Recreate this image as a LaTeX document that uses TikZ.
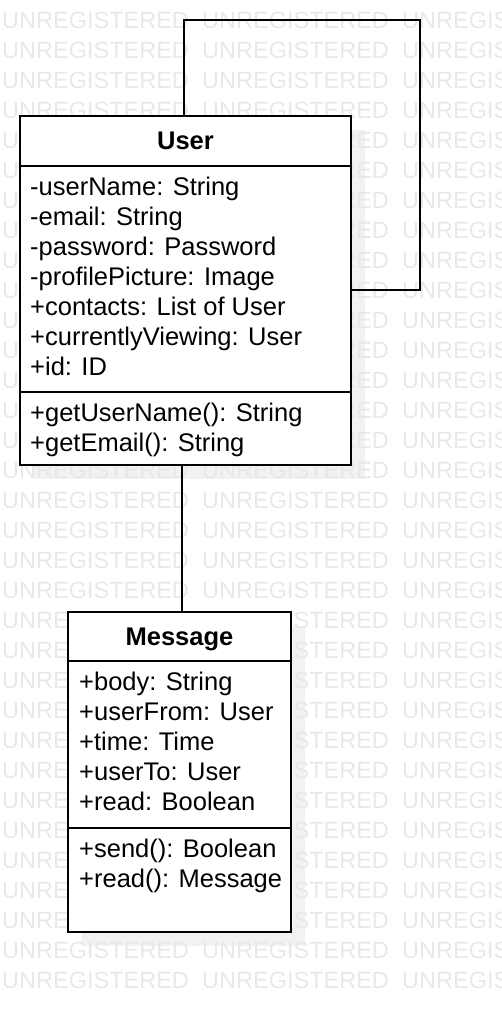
\documentclass[tikz,border=0pt]{standalone}
\usepackage{fontspec}
\setmainfont{Liberation Sans}
\usetikzlibrary{positioning,backgrounds,calc}

\begin{document}
\begin{tikzpicture}[x=1pt,y=-1pt,
  classhead/.style={draw, rectangle, fill=white, line width=2pt, outer sep=0pt, text depth=0pt, font=\fontsize{25.5pt}{30pt}\selectfont\bfseries},
  classpart/.style={draw, rectangle, fill=white, line width=2pt, outer sep=0pt},
  members/.style={inner sep=0pt, align=left, font=\fontsize{25.5pt}{30pt}\selectfont},
  assocline/.style={line width=2pt},
  watermark/.style={inner sep=0pt, text=black!9, font=\fontsize{23.5pt}{28pt}\selectfont},
  classshadow/.style={fill=black!5}]
\useasboundingbox (0,0) rectangle (502,1012);

\node (user) [classhead, minimum width=331pt, minimum height=50pt] at (185.5,141) {User};
\node (userattr) [classpart, minimum width=331pt, minimum height=226pt, below=0pt of user] {};
\node (usermeth) [classpart, minimum width=331pt, minimum height=73pt, below=0pt of userattr] {};
\node (userattrtext) [members, below right=10.5pt and 10pt of userattr.north west] {-userName: String\\-email: String\\-password: Password\\-profilePicture: Image\\+contacts: List of User\\+currentlyViewing: User\\+id: ID};
\node (usermethtext) [members, below right=10.5pt and 10pt of usermeth.north west] {+getUserName(): String\\+getEmail(): String};

\node (msg) [classhead, minimum width=223pt, minimum height=49pt] at (179.5,636.5) {Message};
\node (msgattr) [classpart, minimum width=223pt, minimum height=167pt, below=0pt of msg] {};
\node (msgmeth) [classpart, minimum width=223pt, minimum height=104pt, below=0pt of msgattr] {};
\node (msgattrtext) [members, below right=10.5pt and 11pt of msgattr.north west] {+body: String\\+userFrom: User\\+time: Time\\+userTo: User\\+read: Boolean};
\node (msgmethtext) [members, below right=10.5pt and 11pt of msgmeth.north west] {+send(): Boolean\\+read(): Message};

\coordinate (looptop) at (184,20);
\coordinate (loopright) at (420,290);
\draw [assocline](user.north -| looptop) -- (looptop) -| (loopright) -- (user.east |- loopright);
\draw [assocline]([xshift=-4pt]usermeth.south) -- ([xshift=2pt]msg.north);

\begin{pgfonlayer}{background}
\fill [classshadow]($(user.north west)+(14,14)$) rectangle ($(usermeth.south east)+(14,14)$);
\fill [classshadow]($(msg.north west)+(14,14)$) rectangle ($(msgmeth.south east)+(14,14)$);
\foreach \row in {0,...,32}
  \foreach \col in {0,1,2}
    \node (wm\row-\col) [watermark, anchor=base west] at (2+200*\col,28+30*\row) {UNREGISTERED};
\end{pgfonlayer}
\end{tikzpicture}
\end{document}
